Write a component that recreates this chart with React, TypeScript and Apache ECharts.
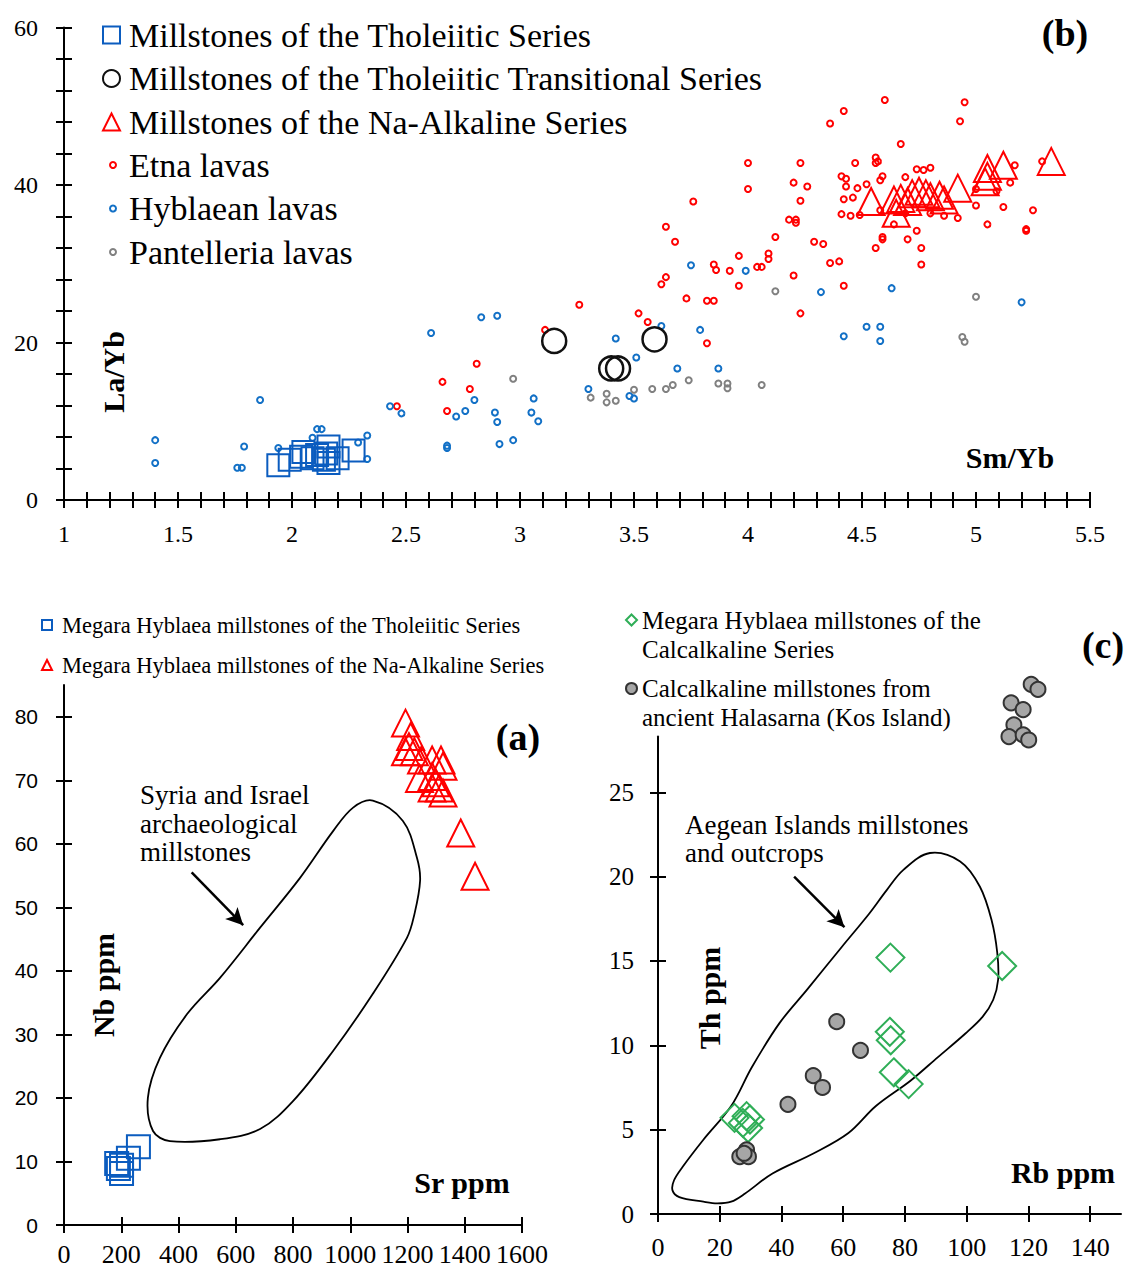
import React, { useEffect, useRef } from "react";
import * as echarts from "echarts";

const SERIF = "'Liberation Serif', 'Times New Roman', serif";
const SANS = "'Liberation Sans', Arial, sans-serif";

// ---------- Panel (b): La/Yb vs Sm/Yb ----------
const B_X_TICKS = [1, 1.5, 2, 2.5, 3, 3.5, 4, 4.5, 5, 5.5];
const B_Y_TICKS = [0, 20, 40, 60];

const THOLEIITIC_B = [
  [1.94, 4.4], [1.99, 5.1], [2.04, 5.5], [2.05, 6.1], [2.09, 5.3], [2.11, 5.7],
  [2.14, 5.1], [2.15, 5.9], [2.16, 6.8], [2.16, 4.7], [2.2, 5.3], [2.27, 6.3],
];
const TRANSITIONAL_B = [[3.15, 20.2], [3.59, 20.4], [3.4, 16.7], [3.43, 16.7]];
const NA_ALKALINE_B = [
  [4.54, 37.9], [4.64, 38.1], [4.65, 36.4], [4.67, 38.3], [4.7, 37.9], [4.72, 38.9],
  [4.75, 39.2], [4.78, 38.9], [4.8, 38.5], [4.84, 38.7], [4.86, 38.1], [4.92, 39.6],
  [5.04, 40.4], [5.05, 41.1], [5.05, 42.1], [5.12, 42.5], [5.33, 43.0],
];
const ETNA_B = [
  [2.46, 11.9], [2.66, 15.0], [2.78, 14.1], [2.68, 11.3], [2.81, 17.3], [3.11, 21.6],
  [3.26, 24.8], [3.52, 23.7], [3.56, 22.6], [3.82, 19.9], [3.64, 34.7], [3.68, 32.8],
  [3.76, 37.9], [3.62, 27.4], [3.64, 28.3], [3.73, 25.6], [3.82, 25.3], [3.85, 25.3],
  [3.85, 29.9], [3.86, 29.2], [3.92, 29.1], [3.96, 31.0], [3.96, 27.2], [4.0, 42.8],
  [4.0, 39.5], [4.04, 29.6], [4.06, 29.6], [4.09, 31.3], [4.09, 30.6], [4.12, 33.4],
  [4.18, 35.6], [4.21, 35.6], [4.21, 35.2], [4.2, 40.3], [4.2, 28.5], [4.23, 42.8],
  [4.23, 38.0], [4.23, 23.7], [4.26, 39.8], [4.29, 32.8], [4.33, 32.5], [4.36, 30.1],
  [4.4, 30.3], [4.36, 47.8], [4.42, 49.4], [4.42, 27.2], [4.41, 41.1], [4.43, 40.8],
  [4.43, 39.8], [4.42, 38.2], [4.46, 38.4], [4.41, 36.3], [4.45, 36.1], [4.49, 36.2],
  [4.47, 42.8], [4.48, 39.6], [4.52, 40.1], [4.56, 43.5], [4.57, 43.0], [4.56, 42.8],
  [4.59, 41.1], [4.58, 40.6], [4.6, 50.8], [4.58, 36.8], [4.59, 33.4], [4.59, 33.1],
  [4.56, 32.0], [4.64, 35.0], [4.67, 45.2], [4.69, 41.0], [4.69, 36.4], [4.7, 33.1],
  [4.74, 34.2], [4.76, 32.0], [4.76, 29.9], [4.74, 42.0], [4.77, 41.9], [4.8, 42.2],
  [4.8, 36.4], [4.86, 36.1], [4.92, 35.8], [4.93, 48.1], [4.95, 50.5], [5.0, 37.4],
  [5.0, 39.5], [5.05, 35.0], [5.09, 39.2], [5.12, 37.2], [5.15, 40.3], [5.17, 42.5],
  [5.22, 34.4], [5.22, 34.2], [5.25, 36.8], [5.29, 43.0],
];
const HYBLAEAN_B = [
  [1.4, 7.6], [1.4, 4.7], [1.76, 4.1], [1.78, 4.1], [1.79, 6.8], [1.86, 12.7],
  [1.94, 6.6], [2.09, 7.9], [2.11, 9.0], [2.13, 9.0], [2.29, 7.3], [2.33, 8.2],
  [2.33, 5.2], [2.43, 11.9], [2.48, 11.0], [2.61, 21.2], [2.68, 6.6], [2.68, 6.9],
  [2.72, 10.6], [2.76, 11.3], [2.8, 12.7], [2.83, 23.2], [2.9, 23.4], [2.89, 11.1],
  [2.9, 9.9], [2.91, 7.1], [2.97, 7.6], [3.05, 11.1], [3.06, 12.9], [3.08, 10.0],
  [3.3, 14.1], [3.42, 20.5], [3.48, 13.2], [3.5, 12.9], [3.51, 18.1], [3.62, 22.1],
  [3.69, 16.7], [3.75, 29.8], [3.79, 21.6], [3.87, 16.7], [3.99, 29.1], [4.32, 26.4],
  [4.42, 20.8], [4.52, 22.0], [4.58, 22.0], [4.58, 20.2], [4.63, 26.9], [5.2, 25.1],
];
const PANTELLERIA_B = [
  [2.97, 15.4], [3.31, 13.0], [3.38, 13.5], [3.38, 12.4], [3.42, 12.6], [3.5, 14.0],
  [3.58, 14.1], [3.64, 14.1], [3.67, 14.6], [3.74, 15.2], [3.87, 14.8], [3.91, 14.8],
  [3.91, 14.2], [4.06, 14.6], [4.12, 26.5], [4.94, 20.7], [4.95, 20.1], [5.0, 25.8],
];

// ---------- Panel (a): Nb vs Sr ----------
const A_X_TICKS = [0, 200, 400, 600, 800, 1000, 1200, 1400, 1600];
const A_Y_TICKS = [0, 10, 20, 30, 40, 50, 60, 70, 80];
const THOLEIITIC_A = [[260, 12.3], [225, 10.5], [201, 9.4], [190, 8.9], [201, 8.1], [184, 9.7]];
const NA_ALKALINE_A = [
  [1193, 79.0], [1211, 76.9], [1205, 75.3], [1224, 74.5], [1193, 74.5], [1249, 73.2],
  [1286, 73.2], [1317, 73.2], [1324, 72.2], [1242, 70.3], [1286, 70.6], [1299, 69.6],
  [1311, 68.8], [1324, 68.0], [1286, 68.8], [1386, 61.7], [1436, 54.9],
];
const SYRIA_ISRAEL_FIELD = [
  [1079, 66.8], [1184, 63.6], [1233, 57.8], [1244, 54.2], [1223, 48.7], [1198, 45.2],
  [1079, 36.4], [940, 27.4], [800, 19.5], [685, 15.1], [545, 13.5], [370, 13.2],
  [311, 14.8], [293, 20], [335, 26.3], [430, 33.2], [545, 38.9], [685, 46.8],
  [824, 54.6], [940, 62], [1010, 65.7],
];
const ARROW_A = [[446, 55.5], [626, 47.2]];

// ---------- Panel (c): Th vs Rb ----------
const C_X_TICKS = [0, 20, 40, 60, 80, 100, 120, 140];
const C_Y_TICKS = [0, 5, 10, 15, 20, 25];
const CALCALKALINE_C = [
  [75.3, 15.2], [111.5, 14.7], [75.1, 10.8], [75.4, 10.3], [76.4, 8.4], [81.2, 7.7],
  [24.8, 5.7], [28.7, 5.8], [29.8, 5.6], [29.2, 5.1], [27.5, 5.4],
];
const HALASARNA_C = [
  [57.9, 11.4], [65.6, 9.7], [50.3, 8.2], [53.3, 7.5], [42.1, 6.5], [28.7, 3.8],
  [26.5, 3.4], [29.3, 3.4], [27.9, 3.6], [120.9, 31.4], [123.1, 31.1], [114.4, 30.3],
  [118.3, 29.9], [115.3, 29.0], [113.7, 28.3], [118.3, 28.4], [120.1, 28.1],
];
const AEGEAN_FIELD = [
  [88.1, 21.4], [97.9, 20.9], [104.3, 19.4], [108.1, 17.4], [109.9, 15.5], [110.2, 13.9],
  [108.6, 12.7], [105.2, 11.7], [99.6, 10.7], [90.7, 9.3], [81.8, 7.9], [70.6, 6.4],
  [61.7, 4.8], [50.5, 3.6], [37.1, 2.4], [28.1, 1.2], [23.7, 0.73], [19.2, 0.63],
  [14.7, 0.73], [6.9, 1.0], [4.7, 1.4], [5.2, 2.0], [8.0, 2.8], [14.7, 4.4],
  [23.7, 6.4], [30.4, 8.7], [39.3, 11.3], [48.3, 13.3], [59.4, 15.8], [68.4, 17.8],
  [74.1, 19.2], [79.5, 20.4],
];
const ARROW_C = [[44.1, 20.0], [60.4, 17.0]];

const N_THOL_B = "Millstones of the Tholeiitic Series";
const N_TRANS_B = "Millstones of the Tholeiitic Transitional Series";
const N_NA_B = "Millstones of the Na-Alkaline Series";
const N_ETNA = "Etna lavas";
const N_HYB = "Hyblaean lavas";
const N_PANT = "Pantelleria lavas";
const N_THOL_A = "Megara Hyblaea millstones of the Tholeiitic Series";
const N_NA_A = "Megara Hyblaea millstones of the Na-Alkaline Series";
const N_CALC_C = "Megara Hyblaea millstones of the Calcalkaline Series";
const N_HAL_C = "Calcalkaline millstones from ancient Halasarna (Kos Island)";
const LEGEND_LINES: Record<string, string> = {
  [N_CALC_C]: " \nMegara Hyblaea millstones of the\nCalcalkaline Series",
  [N_HAL_C]: " \nCalcalkaline millstones from\nancient Halasarna (Kos Island)",
};

const BLACK = "#000";

function axisPair(
  kind: "x" | "y", gridIndex: number, min: number, max: number, interval: number,
  ticks: number[], fontFamily: string, fontSize: number, margin: number, minorSplit?: number
) {
  const common: any = {
    type: "value", gridIndex, min, max, interval,
    position: kind === "x" ? "bottom" : "left",
    splitLine: { show: false },
    silent: true,
  };
  const tickLine = { color: BLACK, width: 2 };
  const minor = minorSplit
    ? { show: true, splitNumber: minorSplit, length: 8, lineStyle: tickLine }
    : { show: false };
  const main = {
    ...common,
    axisLine: { show: true, onZero: false, lineStyle: { color: BLACK, width: 2 } },
    axisTick: { show: true, inside: false, length: 8, customValues: ticks, lineStyle: tickLine },
    minorTick: minor,
    axisLabel: {
      show: true, customValues: ticks, margin, color: BLACK, fontFamily, fontSize,
      showMaxLabel: true, showMinLabel: true, hideOverlap: false,
      formatter: (v: number) => String(v),
    },
  };
  const dup = {
    ...common,
    axisLine: { show: false, onZero: false },
    axisTick: { show: true, inside: true, length: 8, customValues: ticks, lineStyle: tickLine },
    minorTick: minor,
    axisLabel: { show: false },
  };
  return [main, dup];
}

function scatter(name: string, data: number[][], ax: number, symbol: string, size: number,
  fill: string, stroke: string, bw: number, z = 2) {
  return {
    type: "scatter", name, data, xAxisIndex: ax, yAxisIndex: ax, symbol, symbolSize: size,
    itemStyle: { color: fill, borderColor: stroke, borderWidth: bw, opacity: 1 },
    emphasis: { disabled: true }, silent: true, clip: false, z,
  };
}

function outline(ax: number, pts: number[][], arrow: number[][]) {
  return {
    type: "custom", xAxisIndex: ax, yAxisIndex: ax, silent: true, z: 1, clip: false,
    data: [pts[0]],
    renderItem: (_params: any, api: any) => ({
      type: "polygon",
      shape: { points: pts.map((p) => api.coord(p)), smooth: 0.35 },
      style: { fill: "none", stroke: BLACK, lineWidth: 1.8 },
    }),
    markLine: {
      silent: true, symbol: ["none", "arrow"], symbolSize: [13, 17],
      label: { show: false }, emphasis: { disabled: true },
      lineStyle: { color: BLACK, width: 2.5, type: "solid" },
      data: [[{ coord: arrow[0] }, { coord: arrow[1] }]],
    },
  };
}

function txt(x: number, y: number, text: string, size: number, opts: any = {}) {
  return {
    type: "text", x, y, rotation: opts.rotation || 0, silent: true,
    style: {
      text, fill: BLACK, fontFamily: SERIF, fontSize: size,
      fontWeight: opts.bold ? "bold" : "normal",
      align: opts.align || "center", verticalAlign: opts.va || "middle",
      lineHeight: opts.lineHeight,
    },
  };
}

// legend text style with an optional left gap between icon and text (rich token)
function legendText(size: number, lh: number, gap: number) {
  return {
    fontFamily: SERIF, fontSize: size, lineHeight: lh, color: BLACK,
    rich: { g: { width: gap, fontSize: size, lineHeight: lh } },
  };
}
const gapFmt = (gap: number) => (n: string) => (gap > 0 ? `{g|}${n}` : n);

function buildOption(): any {
  const xAxes = [
    ...axisPair("x", 0, 1, 5.5, 0.5, B_X_TICKS, SERIF, 24, 22, 5),
    ...axisPair("x", 1, 0, 1600, 200, A_X_TICKS, SERIF, 26, 16),
    ...axisPair("x", 2, 0, 150, 20, C_X_TICKS, SERIF, 26, 20),
  ];
  const yAxes = [
    ...axisPair("y", 0, 0, 60, 20, B_Y_TICKS, SERIF, 24, 26, 5),
    ...axisPair("y", 1, 0, 85, 10, A_Y_TICKS, SANS, 21, 26),
    ...axisPair("y", 2, 0, 28.3, 5, C_Y_TICKS, SERIF, 25, 24),
  ];
  return {
    animation: false,
    backgroundColor: "#fff",
    grid: [
      { left: 64, top: 27.5, right: 52, bottom: 770 },
      { left: 64, top: 685, right: 620, bottom: 45 },
      { left: 658, top: 736.6, right: 21, bottom: 56 },
    ],
    xAxis: xAxes,
    yAxis: yAxes,
    legend: [
      {
        orient: "vertical", left: 102, top: 18, padding: 0, itemGap: 9.5,
        itemWidth: 17, itemHeight: 17, selectedMode: false,
        formatter: gapFmt(4),
        textStyle: legendText(34, 34, 4), data: [N_THOL_B, N_TRANS_B, N_NA_B],
      },
      {
        orient: "vertical", left: 109, top: 148, padding: 0, itemGap: 9.5,
        itemWidth: 6, itemHeight: 6, selectedMode: false,
        formatter: gapFmt(8),
        textStyle: legendText(34, 34, 8), data: [N_ETNA, N_HYB, N_PANT],
      },
      {
        orient: "vertical", left: 41, top: 613, padding: 0, itemGap: 16,
        itemWidth: 10, itemHeight: 10, selectedMode: false,
        formatter: gapFmt(5),
        textStyle: legendText(22.5, 24, 5), data: [N_THOL_A, N_NA_A],
      },
      {
        orient: "vertical", left: 625, top: 576.5, padding: 0,
        itemWidth: 11, itemHeight: 11, selectedMode: false,
        formatter: (n: string) => LEGEND_LINES[n] || n,
        textStyle: { fontFamily: SERIF, fontSize: 25, lineHeight: 29, color: BLACK },
        data: [N_CALC_C],
      },
      {
        orient: "vertical", left: 625, top: 645, padding: 0,
        itemWidth: 11, itemHeight: 11, selectedMode: false,
        formatter: (n: string) => LEGEND_LINES[n] || n,
        textStyle: { fontFamily: SERIF, fontSize: 25, lineHeight: 29, color: BLACK },
        data: [N_HAL_C],
      },
    ],
    series: [
      scatter(N_ETNA, ETNA_B, 0, "circle", 6, "transparent", "#ff0000", 2),
      scatter(N_HYB, HYBLAEAN_B, 0, "circle", 6, "transparent", "#1270c6", 2),
      scatter(N_PANT, PANTELLERIA_B, 0, "circle", 6, "transparent", "#808080", 2),
      scatter(N_THOL_B, THOLEIITIC_B, 0, "rect", 22, "transparent", "#0b5cbf", 2, 3),
      scatter(N_TRANS_B, TRANSITIONAL_B, 0, "circle", 24, "transparent", "#111", 2.5, 3),
      scatter(N_NA_B, NA_ALKALINE_B, 0, "triangle", 27, "transparent", "#ff0000", 2, 3),
      outline(2, SYRIA_ISRAEL_FIELD, ARROW_A),
      scatter(N_THOL_A, THOLEIITIC_A, 2, "rect", 23, "transparent", "#0b5cbf", 2, 3),
      scatter(N_NA_A, NA_ALKALINE_A, 2, "triangle", 27, "transparent", "#ff0000", 2, 3),
      outline(4, AEGEAN_FIELD, ARROW_C),
      scatter(N_CALC_C, CALCALKALINE_C, 4, "diamond", 28, "transparent", "#2fae57", 2, 3),
      scatter(N_HAL_C, HALASARNA_C, 4, "circle", 15, "#a6a6a6", "#333", 2, 3),
    ],
    graphic: [
      txt(1065, 33, "(b)", 38, { bold: true }),
      txt(518, 737, "(a)", 38, { bold: true }),
      txt(1103, 645, "(c)", 38, { bold: true }),
      txt(113, 372, "La/Yb", 30, { bold: true, rotation: Math.PI / 2 }),
      txt(1010, 457, "Sm/Yb", 30, { bold: true }),
      txt(103, 985, "Nb ppm", 30, { bold: true, rotation: Math.PI / 2 }),
      txt(462, 1182, "Sr ppm", 30, { bold: true }),
      txt(709, 998, "Th ppm", 30, { bold: true, rotation: Math.PI / 2 }),
      txt(1063, 1172, "Rb ppm", 30, { bold: true }),
      txt(140, 781, "Syria and Israel\narchaeological\nmillstones", 27,
        { align: "left", va: "top", lineHeight: 28.5 }),
      txt(685, 811, "Aegean Islands millstones\nand outcrops", 27,
        { align: "left", va: "top", lineHeight: 28 }),
    ],
  };
}

export default function App() {
  const ref = useRef<HTMLDivElement>(null);
  useEffect(() => {
    if (!ref.current) return;
    const chart = echarts.init(ref.current, null, { renderer: "svg" });
    chart.setOption(buildOption());
    return () => chart.dispose();
  }, []);
  return (
    <div
      ref={ref}
      style={{ position: "absolute", left: 0, top: 0, width: 1142, height: 1270, background: "#fff" }}
    />
  );
}
